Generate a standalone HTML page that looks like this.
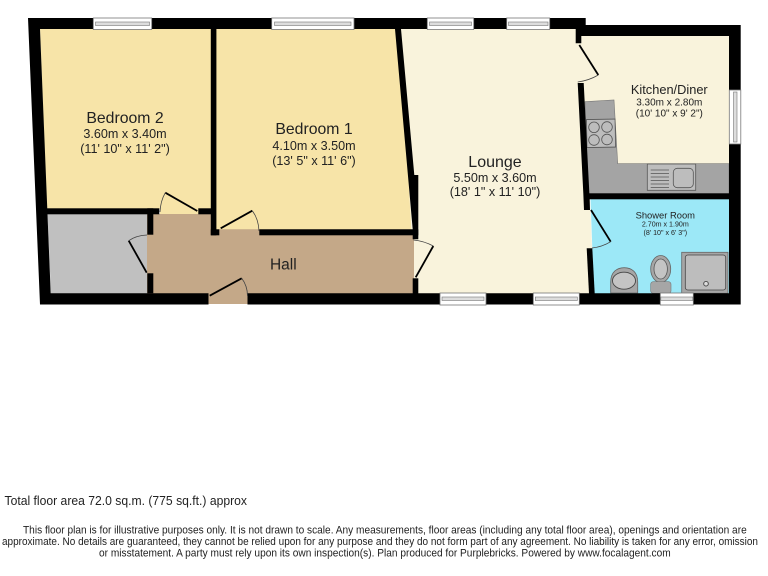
<!DOCTYPE html>
<html>
<head>
<meta charset="utf-8">
<style>
html,body{margin:0;padding:0;background:#fff;width:768px;height:576px;overflow:hidden}
svg{display:block;filter:blur(0.35px)}
text{font-family:"Liberation Sans",Arial,sans-serif;fill:#222;text-anchor:middle}
</style>
</head>
<body>
<svg width="768" height="576" viewBox="0 0 768 576" xmlns="http://www.w3.org/2000/svg">
<!-- room fills -->
<polygon points="40,29 211,29 211,211 160,211 160,209 47,209" fill="#f7e4a8"/>
<polygon points="160,208 199,208 199,214 160,214" fill="#f7e4a8"/>
<polygon points="216,29 396,29 413,229.5 216,229.5" fill="#f7e4a8"/>
<polygon points="400,29 582,29 582,100 590,200 594,295 415,295" fill="#f9f3dc"/>
<polygon points="578,30 730,30 730,194 586,194" fill="#f9f3dc"/>
<polygon points="47.5,214 148,214 148,294 51,294" fill="#c0c0c0"/>
<polygon points="147,214 216,214 216,229.3 414,229.3 414,294 247.5,294 247.5,304 208.5,304 208.5,294 147,294" fill="#c4a888"/>
<polygon points="590.5,199 730,199 730,294 594,294" fill="#9ce8f7"/>

<!-- kitchen counter -->
<polygon points="585,101.7 614,100 617.7,163.7 729,163.7 729,194 588,194" fill="#a4a4a4" stroke="#777" stroke-width=".6"/>
<rect x="586.7" y="119.3" width="28.6" height="28" fill="#bdbdbd" stroke="#555" stroke-width=".8" transform="rotate(-1 601 133)"/>
<g fill="#bdbdbd" stroke="#555" stroke-width=".8">
<circle cx="594" cy="127.3" r="5.3"/><circle cx="607" cy="127" r="5.3"/>
<circle cx="594" cy="140" r="5.3"/><circle cx="607" cy="139.5" r="5.3"/>
</g>
<rect x="647.3" y="164" width="48.4" height="26.3" fill="#bdbdbd" stroke="#555" stroke-width=".8"/>
<rect x="673.3" y="168.3" width="20" height="19.4" rx="4" fill="#bdbdbd" stroke="#555" stroke-width=".8"/>
<g stroke="#555" stroke-width=".8">
<line x1="650.7" y1="170" x2="669" y2="170"/><line x1="650.7" y1="173.5" x2="669" y2="173.5"/>
<line x1="650.7" y1="177" x2="669" y2="177"/><line x1="650.7" y1="180.5" x2="669" y2="180.5"/>
<line x1="650.7" y1="184" x2="669" y2="184"/><line x1="650.7" y1="187.5" x2="669" y2="187.5"/>
</g>

<!-- shower room fixtures -->
<rect x="681.7" y="252.3" width="46.3" height="41" fill="#a6a6a6" stroke="#666" stroke-width=".8"/>
<rect x="685.3" y="255" width="40.4" height="35" rx="2.5" fill="#bdbdbd" stroke="#444" stroke-width=".8"/>
<circle cx="706" cy="283.7" r="2.3" fill="#ddd" stroke="#444" stroke-width=".9"/>
<ellipse cx="660.7" cy="269" rx="10" ry="13.5" fill="#a6a6a6" stroke="#666" stroke-width=".8"/>
<ellipse cx="660.7" cy="269" rx="6.7" ry="10" fill="#c4c4c4" stroke="#555" stroke-width=".8"/>
<rect x="650.7" y="281.7" width="20.3" height="11.6" rx="2.5" fill="#a6a6a6" stroke="#777" stroke-width=".6"/>
<path d="M610.7,293 V282 C610.7,272 617,267.7 624.2,267.7 C631.5,267.7 637.7,272 637.7,282 V293 Z" fill="#a6a6a6" stroke="#666" stroke-width=".8"/>
<ellipse cx="624" cy="280.7" rx="11.5" ry="8.5" fill="#c4c4c4" stroke="#444" stroke-width=".9"/>

<!-- walls -->
<g fill="#000">
<polygon points="28,18 585.7,18 585.7,25 740.7,25 740.7,304.5 594,304.5 594,293.3 729,293.3 729,36 581.3,36 581.3,43.3 575.7,43.3 575.7,29 40,29 50.7,293.3 208.5,293.3 208.5,304.5 40,304.5"/>
<polygon points="247.5,293.3 594,293.3 594,304.5 247.5,304.5"/>
<rect x="210.8" y="29" width="5.6" height="206.3"/>
<rect x="210.8" y="229.3" width="8.5" height="6"/>
<rect x="47" y="208.3" width="112.3" height="6"/>
<rect x="198.3" y="208.3" width="12.7" height="6"/>
<rect x="147.3" y="208.3" width="6" height="26.4"/>
<rect x="147.3" y="273.3" width="6" height="20"/>
<rect x="259.3" y="229.3" width="159" height="6"/>
<polygon points="395,29 401,29 414.3,175 418.3,175 418.3,239.3 412.7,239.3 412.7,229.3"/>
<rect x="412.7" y="278.3" width="5.6" height="15.2"/>
<polygon points="577.7,83 583.7,83 589.7,200 590,210 584,210 583.3,193"/>
<polygon points="586.7,248.3 592.3,248.3 594.7,293.5 589,293.5"/>
<rect x="588" y="193.3" width="141.5" height="6"/>
</g>

<!-- windows -->
<g>
<g fill="#fff" stroke="#777" stroke-width=".8">
<rect x="93.3" y="18" width="58.4" height="11.5"/>
<rect x="271.7" y="18" width="82.3" height="11.5"/>
<rect x="427.3" y="18" width="46.4" height="11.5"/>
<rect x="506.7" y="18" width="43" height="11.5"/>
<rect x="440" y="293" width="46" height="12"/>
<rect x="533.3" y="293" width="46" height="12"/>
<rect x="660.3" y="293" width="33" height="12"/>
<rect x="729.3" y="90" width="11.5" height="54"/>
</g>
<g fill="#ddd" stroke="#777" stroke-width=".6">
<rect x="95.5" y="22" width="54" height="3.5"/>
<rect x="274.5" y="22" width="76.5" height="3.5"/>
<rect x="429.5" y="22" width="42" height="3.5"/>
<rect x="508.5" y="22" width="39.5" height="3.5"/>
<rect x="442" y="297" width="42" height="3.5"/>
<rect x="535.3" y="297" width="42" height="3.5"/>
<rect x="660.8" y="297" width="32" height="3.5"/>
<rect x="733.5" y="92" width="3.5" height="50"/>
</g>
</g>

<!-- doors -->
<g fill="none" stroke="#000" stroke-width="1.8">
<line x1="197.3" y1="211" x2="165.3" y2="192.7"/>
<line x1="220.7" y1="228.3" x2="252.3" y2="210.7"/>
<line x1="146.7" y1="272.7" x2="128.7" y2="240.7"/>
<line x1="209.7" y1="295.7" x2="241.7" y2="278.3"/>
<line x1="415.7" y1="277.3" x2="433.3" y2="246"/>
<line x1="579.3" y1="45" x2="598.3" y2="75"/>
<line x1="591" y1="210" x2="610.7" y2="241.7"/>
</g>
<g fill="none" stroke="#444" stroke-width=".8">
<path d="M165.3,192.7 Q160.5,201 160,212"/>
<path d="M252.3,210.7 Q258.5,219 259,231"/>
<path d="M128.7,240.7 Q136,235.5 147,235"/>
<path d="M241.7,278.3 Q247.5,286 247.5,296"/>
<path d="M433.3,246 Q424,241 413.5,240"/>
<path d="M598.3,75 Q589,80.5 577.7,82"/>
<path d="M610.7,241.7 Q602,247 592,248"/>
</g>

<!-- labels -->
<text x="125" y="123" font-size="15.8">Bedroom 2</text>
<text x="125" y="138" font-size="12.6">3.60m x 3.40m</text>
<text x="125" y="153" font-size="12.6">(11' 10" x 11' 2")</text>

<text x="314" y="134" font-size="15.8">Bedroom 1</text>
<text x="314" y="150" font-size="12.6">4.10m x 3.50m</text>
<text x="314" y="165" font-size="12.6">(13' 5" x 11' 6")</text>

<text x="495" y="167" font-size="16">Lounge</text>
<text x="495" y="182" font-size="12.6">5.50m x 3.60m</text>
<text x="495" y="196" font-size="12.6">(18' 1" x 11' 10")</text>

<text x="669.3" y="94" font-size="12.8">Kitchen/Diner</text>
<text x="669.3" y="105.7" font-size="10">3.30m x 2.80m</text>
<text x="669.3" y="116.7" font-size="10">(10' 10" x 9' 2")</text>

<text x="665.3" y="218.3" font-size="9.4">Shower Room</text>
<text x="665.3" y="226.7" font-size="7.1">2.70m x 1.90m</text>
<text x="665.3" y="235" font-size="7.1">(8' 10" x 6' 3")</text>

<text x="283.3" y="269.3" font-size="15.5">Hall</text>

<!-- footer -->
<text x="4.5" y="505" font-size="12.6" style="text-anchor:start" textLength="242.5" lengthAdjust="spacingAndGlyphs">Total floor area 72.0 sq.m. (775 sq.ft.) approx</text>
<text x="23" y="533.3" font-size="10.6" style="text-anchor:start" textLength="723.7" lengthAdjust="spacingAndGlyphs">This floor plan is for illustrative purposes only. It is not drawn to scale. Any measurements, floor areas (including any total floor area), openings and orientation are</text>
<text x="2" y="545" font-size="10.6" style="text-anchor:start" textLength="756" lengthAdjust="spacingAndGlyphs">approximate. No details are guaranteed, they cannot be relied upon for any purpose and they do not form part of any agreement. No liability is taken for any error, omission</text>
<text x="99" y="556.7" font-size="10.6" style="text-anchor:start" textLength="571.7" lengthAdjust="spacingAndGlyphs">or misstatement. A party must rely upon its own inspection(s). Plan produced for Purplebricks. Powered by www.focalagent.com</text>
</svg>
</body>
</html>
